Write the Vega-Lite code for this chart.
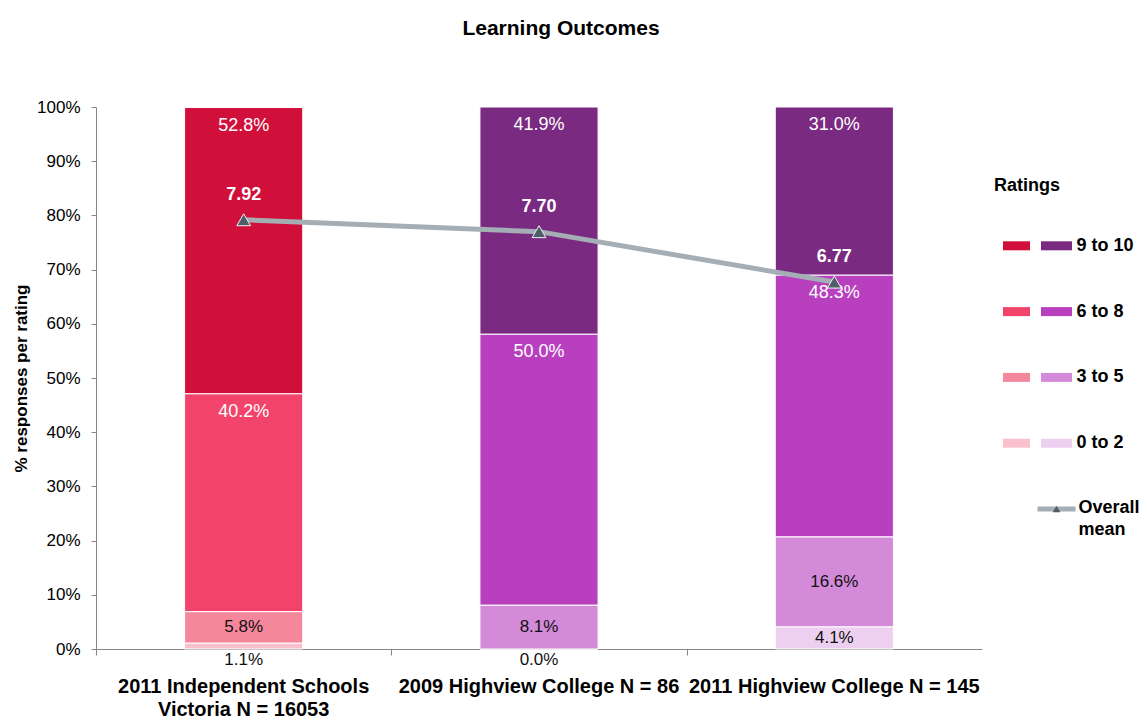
{
  "$schema": "https://vega.github.io/schema/vega-lite/v6.json",
  "padding": {"left": 12, "top": 18, "right": 0, "bottom": 5},
  "background": "white",
  "config": {"view": {"stroke": null}, "font": "Liberation Sans"},
  "title": {"text": "Learning Outcomes", "fontSize": 21, "fontWeight": "bold", "color": "#000000", "offset": 59, "anchor": "middle", "dx": -15},
  "datasets": {
    "ratings": [
      {"group": "2011 Independent Schools Victoria N = 16053", "rating": "0 to 2", "pct": 0.011},
      {"group": "2011 Independent Schools Victoria N = 16053", "rating": "3 to 5", "pct": 0.058},
      {"group": "2011 Independent Schools Victoria N = 16053", "rating": "6 to 8", "pct": 0.402},
      {"group": "2011 Independent Schools Victoria N = 16053", "rating": "9 to 10", "pct": 0.528},
      {"group": "2009 Highview College N = 86", "rating": "0 to 2", "pct": 0.0},
      {"group": "2009 Highview College N = 86", "rating": "3 to 5", "pct": 0.081},
      {"group": "2009 Highview College N = 86", "rating": "6 to 8", "pct": 0.5},
      {"group": "2009 Highview College N = 86", "rating": "9 to 10", "pct": 0.419},
      {"group": "2011 Highview College N = 145", "rating": "0 to 2", "pct": 0.041},
      {"group": "2011 Highview College N = 145", "rating": "3 to 5", "pct": 0.166},
      {"group": "2011 Highview College N = 145", "rating": "6 to 8", "pct": 0.483},
      {"group": "2011 Highview College N = 145", "rating": "9 to 10", "pct": 0.31}
    ],
    "means": [
      {"group": "2011 Independent Schools Victoria N = 16053", "mean": 7.92},
      {"group": "2009 Highview College N = 86", "mean": 7.70},
      {"group": "2011 Highview College N = 145", "mean": 6.77}
    ],
    "legendRows": [
      {"family": "Independent Schools", "rating": "9 to 10"},
      {"family": "Independent Schools", "rating": "6 to 8"},
      {"family": "Independent Schools", "rating": "3 to 5"},
      {"family": "Independent Schools", "rating": "0 to 2"},
      {"family": "Highview College", "rating": "9 to 10"},
      {"family": "Highview College", "rating": "6 to 8"},
      {"family": "Highview College", "rating": "3 to 5"},
      {"family": "Highview College", "rating": "0 to 2"}
    ]
  },
  "hconcat": [
    {
      "width": 886,
      "height": 542,
      "layer": [
        {
          "data": {"name": "ratings"},
          "transform": [
            {"stack": "pct", "groupby": ["group"], "sort": [{"field": "rating", "order": "ascending"}], "as": ["y0", "y1"]},
            {"calculate": "(datum.y0 + datum.y1) / 2", "as": "ymid"}
          ],
          "encoding": {
            "x": {
              "field": "group", "type": "nominal", "sort": null,
              "scale": {"type": "band", "domain": ["2011 Independent Schools Victoria N = 16053", "2009 Highview College N = 86", "2011 Highview College N = 145"], "paddingInner": 0.6, "paddingOuter": 0.3},
              "axis": {
                "orient": "bottom", "title": null, "ticks": false, "domain": true, "domainColor": "#868686", "domainWidth": 1,
                "labelAngle": 0, "labelFontSize": 20, "labelFontWeight": "bold", "labelColor": "#000000",
                "labelPadding": 27, "labelLimit": 400, "labelOverlap": false, "labelLineHeight": 23,
                "labelExpr": "datum.value == '2011 Independent Schools Victoria N = 16053' ? ['2011 Independent Schools', 'Victoria N = 16053'] : datum.label"
              }
            }
          },
          "layer": [
            {
              "transform": [{"filter": "datum.group == '2011 Independent Schools Victoria N = 16053'"}],
              "mark": {"type": "bar", "stroke": "#FFFFFF", "strokeWidth": 1},
              "encoding": {
                "y": {
                  "field": "y0", "type": "quantitative", "scale": {"domain": [0, 1]},
                  "axis": {
                    "orient": "left", "title": "% responses per rating", "titleFontSize": 17, "titleFontWeight": "bold", "titleColor": "#000000", "titlePadding": 6,
                    "values": [0, 0.1, 0.2, 0.3, 0.4, 0.5, 0.6, 0.7, 0.8, 0.9, 1], "format": ".0%", "grid": false,
                    "domainColor": "#868686", "tickColor": "#868686", "tickSize": 5, "labelFontSize": 17, "labelColor": "#000000", "labelPadding": 11
                  }
                },
                "y2": {"field": "y1"},
                "color": {"field": "rating", "type": "nominal", "scale": {"domain": ["9 to 10", "6 to 8", "3 to 5", "0 to 2"], "range": ["#D0103A", "#F2436A", "#F5879C", "#F9C1CC"]}, "legend": null}
              }
            },
            {
              "transform": [{"filter": "datum.group != '2011 Independent Schools Victoria N = 16053'"}],
              "mark": {"type": "bar", "stroke": "#FFFFFF", "strokeWidth": 1},
              "encoding": {
                "y": {
                  "field": "y0", "type": "quantitative", "scale": {"domain": [0, 1]},
                  "axis": {
                    "orient": "left", "title": "% responses per rating", "titleFontSize": 17, "titleFontWeight": "bold", "titleColor": "#000000", "titlePadding": 6,
                    "values": [0, 0.1, 0.2, 0.3, 0.4, 0.5, 0.6, 0.7, 0.8, 0.9, 1], "format": ".0%", "grid": false,
                    "domainColor": "#868686", "tickColor": "#868686", "tickSize": 5, "labelFontSize": 17, "labelColor": "#000000", "labelPadding": 11
                  }
                },
                "y2": {"field": "y1"},
                "color": {"field": "rating", "type": "nominal", "scale": {"domain": ["9 to 10", "6 to 8", "3 to 5", "0 to 2"], "range": ["#7B2A81", "#B840BF", "#D38AD8", "#EDD0EF"]}, "legend": null}
              }
            },
            {
              "transform": [{"filter": "datum.rating == '9 to 10' || datum.rating == '6 to 8'"}],
              "mark": {"type": "text", "color": "#FFFFFF", "fontSize": 18, "baseline": "middle", "dy": 18},
              "encoding": {
                "y": {
                  "field": "y1", "type": "quantitative", "scale": {"domain": [0, 1]},
                  "axis": {
                    "orient": "left", "title": "% responses per rating", "titleFontSize": 17, "titleFontWeight": "bold", "titleColor": "#000000", "titlePadding": 6,
                    "values": [0, 0.1, 0.2, 0.3, 0.4, 0.5, 0.6, 0.7, 0.8, 0.9, 1], "format": ".0%", "grid": false,
                    "domainColor": "#868686", "tickColor": "#868686", "tickSize": 5, "labelFontSize": 17, "labelColor": "#000000", "labelPadding": 11
                  }
                },
                "text": {"field": "pct", "type": "quantitative", "format": ".1%"}
              }
            },
            {
              "transform": [{"filter": "datum.rating == '3 to 5' || (datum.rating == '0 to 2' && datum.pct >= 0.02)"}],
              "mark": {"type": "text", "color": "#111111", "fontSize": 17, "baseline": "middle"},
              "encoding": {
                "y": {
                  "field": "ymid", "type": "quantitative", "scale": {"domain": [0, 1]},
                  "axis": {
                    "orient": "left", "title": "% responses per rating", "titleFontSize": 17, "titleFontWeight": "bold", "titleColor": "#000000", "titlePadding": 6,
                    "values": [0, 0.1, 0.2, 0.3, 0.4, 0.5, 0.6, 0.7, 0.8, 0.9, 1], "format": ".0%", "grid": false,
                    "domainColor": "#868686", "tickColor": "#868686", "tickSize": 5, "labelFontSize": 17, "labelColor": "#000000", "labelPadding": 11
                  }
                },
                "text": {"field": "pct", "type": "quantitative", "format": ".1%"}
              }
            },
            {
              "transform": [{"filter": "datum.rating == '0 to 2' && datum.pct < 0.02"}],
              "mark": {"type": "text", "color": "#111111", "fontSize": 17, "baseline": "middle", "dy": 11},
              "encoding": {
                "y": {
                  "field": "y0", "type": "quantitative", "scale": {"domain": [0, 1]},
                  "axis": {
                    "orient": "left", "title": "% responses per rating", "titleFontSize": 17, "titleFontWeight": "bold", "titleColor": "#000000", "titlePadding": 6,
                    "values": [0, 0.1, 0.2, 0.3, 0.4, 0.5, 0.6, 0.7, 0.8, 0.9, 1], "format": ".0%", "grid": false,
                    "domainColor": "#868686", "tickColor": "#868686", "tickSize": 5, "labelFontSize": 17, "labelColor": "#000000", "labelPadding": 11
                  }
                },
                "text": {"field": "pct", "type": "quantitative", "format": ".1%"}
              }
            }
          ],
          "resolve": {"scale": {"color": "independent"}}
        },
        {
          "data": {"name": "means"},
          "encoding": {
            "x": {
              "field": "group", "type": "nominal", "sort": null,
              "scale": {"type": "band", "domain": ["2011 Independent Schools Victoria N = 16053", "2009 Highview College N = 86", "2011 Highview College N = 145"], "paddingInner": 0.6, "paddingOuter": 0.3},
              "axis": {"orient": "bottom", "title": null, "labels": false, "domain": false, "ticks": true, "tickSize": 6, "tickColor": "#868686", "bandPosition": 0, "tickOffset": -88.6}
            },
            "y": {"field": "mean", "type": "quantitative", "scale": {"domain": [0, 10]}, "axis": null}
          },
          "layer": [
            {"mark": {"type": "line", "color": "#A4AEB4", "strokeWidth": 5}, "encoding": {}},
            {"mark": {"type": "point", "shape": "triangle-up", "size": 190, "filled": true, "fill": "#4E5E68", "stroke": "#F0F0F0", "strokeWidth": 1, "opacity": 1}},
            {"mark": {"type": "text", "dy": -25, "fontSize": 18, "fontWeight": "bold", "color": "#FFFFFF", "baseline": "middle"}, "encoding": {"text": {"field": "mean", "type": "quantitative", "format": ".2f"}}}
          ]
        }
      ],
      "resolve": {"scale": {"y": "independent", "color": "independent"}, "axis": {"x": "independent"}}
    },
    {
      "width": 135,
      "height": 542,
      "layer": [
        {
          "data": {"name": "legendRows"},
          "transform": [{"filter": "datum.family == 'Independent Schools'"}],
          "mark": {"type": "tick", "orient": "horizontal", "size": 27, "thickness": 9, "opacity": 1},
          "encoding": {
            "x": {"field": "family", "type": "nominal", "scale": {"type": "point", "domain": ["Independent Schools", "Highview College"], "range": [22.5, 62.5], "padding": 0}, "axis": null},
            "y": {"field": "rating", "type": "nominal", "scale": {"type": "point", "domain": ["Ratings", "9 to 10", "6 to 8", "3 to 5", "0 to 2", "Overall mean"], "range": [73, 402], "padding": 0}, "axis": null},
            "color": {"field": "rating", "type": "nominal", "scale": {"domain": ["9 to 10", "6 to 8", "3 to 5", "0 to 2"], "range": ["#D0103A", "#F2436A", "#F5879C", "#F9C1CC"]}, "legend": null}
          }
        },
        {
          "data": {"name": "legendRows"},
          "transform": [{"filter": "datum.family == 'Highview College'"}],
          "mark": {"type": "tick", "orient": "horizontal", "size": 31, "thickness": 9, "opacity": 1},
          "encoding": {
            "x": {"field": "family", "type": "nominal", "axis": null},
            "y": {"field": "rating", "type": "nominal", "axis": null},
            "color": {"field": "rating", "type": "nominal", "scale": {"domain": ["9 to 10", "6 to 8", "3 to 5", "0 to 2"], "range": ["#7B2A81", "#B840BF", "#D38AD8", "#EDD0EF"]}, "legend": null}
          }
        },
        {
          "data": {"name": "legendRows"},
          "transform": [{"filter": "datum.family == 'Highview College'"}],
          "mark": {"type": "text", "align": "left", "baseline": "middle", "dx": 20, "fontSize": 18, "fontWeight": "bold", "color": "#000000"},
          "encoding": {
            "x": {"field": "family", "type": "nominal", "axis": null},
            "y": {"field": "rating", "type": "nominal", "axis": null},
            "text": {"field": "rating", "type": "nominal"}
          }
        },
        {
          "data": {"values": [{"heading": "Ratings"}]},
          "mark": {"type": "text", "align": "left", "baseline": "middle", "dx": -22.5, "dy": 6, "fontSize": 18, "fontWeight": "bold", "color": "#000000"},
          "encoding": {
            "x": {"datum": "Independent Schools", "type": "nominal", "axis": null},
            "y": {"field": "heading", "type": "nominal", "axis": null},
            "text": {"field": "heading", "type": "nominal"}
          }
        },
        {
          "data": {"values": [{"item": "Overall mean"}]},
          "mark": {"type": "tick", "orient": "horizontal", "size": 38, "thickness": 5, "color": "#A4AEB4", "opacity": 1},
          "encoding": {
            "x": {"datum": "Highview College", "type": "nominal", "axis": null},
            "y": {"field": "item", "type": "nominal", "axis": null}
          }
        },
        {
          "data": {"values": [{"item": "Overall mean"}]},
          "mark": {"type": "point", "shape": "triangle-up", "size": 60, "filled": true, "fill": "#4E5E68", "opacity": 1},
          "encoding": {
            "x": {"datum": "Highview College", "type": "nominal", "axis": null},
            "y": {"field": "item", "type": "nominal", "axis": null}
          }
        },
        {
          "data": {"values": [{"item": "Overall mean"}]},
          "mark": {"type": "text", "align": "left", "baseline": "top", "dx": 22, "dy": -10, "lineBreak": " ", "lineHeight": 22, "fontSize": 18, "fontWeight": "bold", "color": "#000000"},
          "encoding": {
            "x": {"datum": "Highview College", "type": "nominal", "axis": null},
            "y": {"field": "item", "type": "nominal", "axis": null},
            "text": {"field": "item", "type": "nominal"}
          }
        }
      ],
      "resolve": {"scale": {"color": "independent"}}
    }
  ],
  "spacing": 12,
  "bounds": "flush",
  "resolve": {"scale": {"color": "independent", "x": "independent", "y": "independent"}}
}
